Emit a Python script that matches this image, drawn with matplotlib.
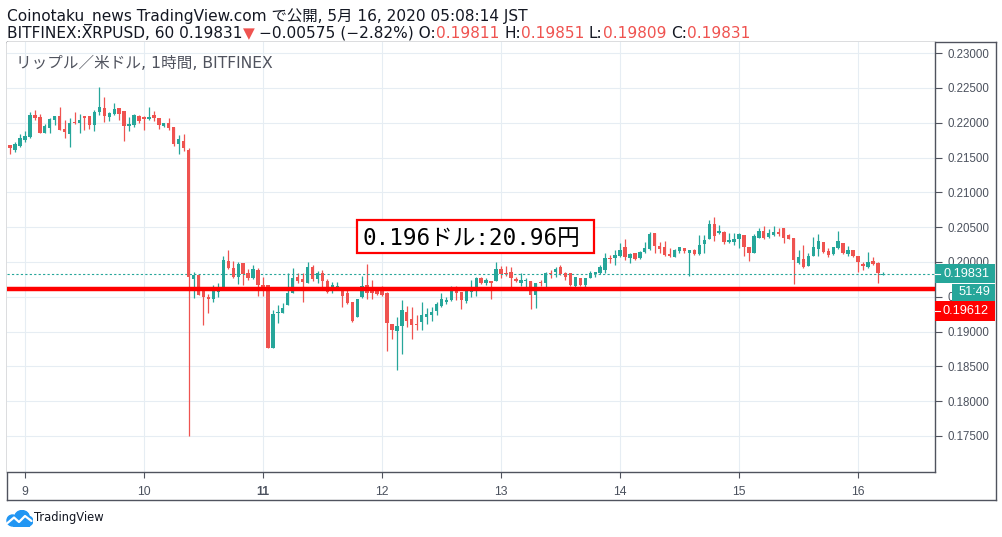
import matplotlib
matplotlib.use("Agg")
import matplotlib.pyplot as plt
from matplotlib.patches import Rectangle, Circle

plt.rcParams['font.family'] = ['DejaVu Sans', 'Noto Sans CJK JP']

# BITFINEX XRPUSD 1時間足, 5/8 21:00 JST の足から 5/16 05:00 JST の足まで
first_hour = 8 + 21 / 24

opens = [
    0.21681, 0.21609, 0.21667, 0.21753, 0.21792, 0.22112, 0.22084, 0.21858, 0.21930, 0.22041,
    0.22098, 0.21911, 0.21844, 0.22016, 0.22002, 0.22088, 0.22098, 0.21973, 0.22156, 0.22213,
    0.22088, 0.22122, 0.22213, 0.22170, 0.21959, 0.21969, 0.22098, 0.22084, 0.22059, 0.22112,
    0.22069, 0.21959, 0.21997, 0.21940, 0.21696, 0.21739, 0.21609, 0.19756, 0.19813, 0.19645,
    0.19497, 0.19473, 0.19573, 0.19645, 0.20014, 0.19914, 0.19789, 0.19981, 0.19838, 0.19766,
    0.19885, 0.19670, 0.19670, 0.18768, 0.19263, 0.19271, 0.19382, 0.19559, 0.19780, 0.19756,
    0.19703, 0.19932, 0.19760, 0.19838, 0.19731, 0.19636, 0.19636, 0.19645, 0.19559, 0.19430,
    0.19214, 0.19493, 0.19670, 0.19608, 0.19598, 0.19583, 0.19559, 0.19109, 0.19008, 0.19080,
    0.19286, 0.19181, 0.19109, 0.19142, 0.19214, 0.19238, 0.19296, 0.19368, 0.19430, 0.19454,
    0.19645, 0.19573, 0.19440, 0.19573, 0.19636, 0.19766, 0.19703, 0.19727, 0.19727, 0.19895,
    0.19846, 0.19856, 0.19751, 0.19703, 0.19727, 0.19727, 0.19526, 0.19717, 0.19694, 0.19846,
    0.19861, 0.19924, 0.19838, 0.19838, 0.19655, 0.19766, 0.19670, 0.19774, 0.19828, 0.19846,
    0.19885, 0.20062, 0.20053, 0.20086, 0.20211, 0.20053, 0.20134, 0.20053, 0.20139, 0.20182,
    0.20412, 0.20230, 0.20211, 0.20115, 0.20076, 0.20162, 0.20197, 0.20125, 0.20172, 0.20111,
    0.20259, 0.20331, 0.20546, 0.20412, 0.20435, 0.20283, 0.20283, 0.20331, 0.20388, 0.20220,
    0.20134, 0.20341, 0.20445, 0.20355, 0.20388, 0.20435, 0.20484, 0.20388, 0.20349, 0.19981,
    0.20043, 0.19943, 0.20091, 0.20187, 0.20292, 0.20158, 0.20111, 0.20205, 0.20269, 0.20111,
    0.20172, 0.20086, 0.19971, 0.19932, 0.20019, 0.19990, 0.19811,
]
highs = [
    0.21681, 0.21729, 0.21839, 0.21882, 0.22156, 0.22184, 0.22127, 0.21983, 0.22074, 0.22098,
    0.22227, 0.22041, 0.22069, 0.22156, 0.22131, 0.22098, 0.22098, 0.22184, 0.22519, 0.22371,
    0.22156, 0.22285, 0.22213, 0.22170, 0.22084, 0.22131, 0.22112, 0.22098, 0.22227, 0.22170,
    0.22069, 0.21997, 0.22069, 0.21940, 0.21825, 0.21844, 0.21638, 0.19861, 0.19828, 0.19645,
    0.19540, 0.19670, 0.19698, 0.20091, 0.20172, 0.20014, 0.20004, 0.19981, 0.19895, 0.19957,
    0.19909, 0.19780, 0.19670, 0.19310, 0.19382, 0.19407, 0.19838, 0.19909, 0.19838, 0.19838,
    0.19996, 0.19957, 0.19871, 0.19885, 0.19751, 0.19717, 0.19717, 0.19645, 0.19598, 0.19430,
    0.19468, 0.19799, 0.19971, 0.19741, 0.19645, 0.19655, 0.19573, 0.19109, 0.19214, 0.19454,
    0.19368, 0.19358, 0.19238, 0.19430, 0.19335, 0.19358, 0.19430, 0.19550, 0.19493, 0.19655,
    0.19655, 0.19573, 0.19636, 0.19741, 0.19789, 0.19789, 0.19766, 0.19731, 0.20000, 0.19943,
    0.19943, 0.19932, 0.19780, 0.19838, 0.19766, 0.19727, 0.19703, 0.19741, 0.19861, 0.19885,
    0.19924, 0.19957, 0.19856, 0.19838, 0.19780, 0.19766, 0.19766, 0.19875, 0.19856, 0.19957,
    0.20125, 0.20101, 0.20172, 0.20277, 0.20331, 0.20134, 0.20134, 0.20162, 0.20292, 0.20435,
    0.20421, 0.20292, 0.20302, 0.20197, 0.20187, 0.20220, 0.20197, 0.20172, 0.20182, 0.20388,
    0.20388, 0.20604, 0.20651, 0.20532, 0.20450, 0.20412, 0.20412, 0.20412, 0.20388, 0.20220,
    0.20402, 0.20484, 0.20522, 0.20470, 0.20522, 0.20484, 0.20484, 0.20398, 0.20349, 0.20172,
    0.20244, 0.20125, 0.20355, 0.20398, 0.20292, 0.20197, 0.20220, 0.20445, 0.20269, 0.20234,
    0.20172, 0.20086, 0.20004, 0.20139, 0.20076, 0.20004, 0.19851,
]
lows = [
    0.21552, 0.21585, 0.21657, 0.21729, 0.21782, 0.22041, 0.21858, 0.21858, 0.21858, 0.21969,
    0.21897, 0.21786, 0.21657, 0.21979, 0.21854, 0.21897, 0.21907, 0.21887, 0.22117, 0.22012,
    0.22030, 0.22112, 0.22041, 0.21739, 0.21882, 0.21944, 0.22002, 0.21897, 0.22041, 0.22030,
    0.21911, 0.21944, 0.21897, 0.21671, 0.21552, 0.21599, 0.17500, 0.19487, 0.19526, 0.19095,
    0.19271, 0.19425, 0.19501, 0.19622, 0.19904, 0.19766, 0.19684, 0.19670, 0.19741, 0.19751,
    0.19516, 0.19511, 0.18768, 0.18768, 0.19119, 0.19271, 0.19382, 0.19550, 0.19694, 0.19430,
    0.19694, 0.19731, 0.19694, 0.19645, 0.19559, 0.19559, 0.19608, 0.19358, 0.19396, 0.19142,
    0.19214, 0.19478, 0.19464, 0.19464, 0.19526, 0.19511, 0.18725, 0.18889, 0.18448, 0.18678,
    0.19070, 0.18889, 0.19023, 0.19023, 0.19109, 0.19156, 0.19238, 0.19358, 0.19392, 0.19444,
    0.19454, 0.19320, 0.19415, 0.19501, 0.19511, 0.19684, 0.19670, 0.19468, 0.19727, 0.19766,
    0.19799, 0.19645, 0.19708, 0.19659, 0.19645, 0.19320, 0.19343, 0.19655, 0.19608, 0.19766,
    0.19789, 0.19813, 0.19741, 0.19655, 0.19636, 0.19655, 0.19645, 0.19766, 0.19780, 0.19828,
    0.19838, 0.19981, 0.19957, 0.20076, 0.20029, 0.19990, 0.20029, 0.20043, 0.20125, 0.20172,
    0.20125, 0.20125, 0.20091, 0.20076, 0.20068, 0.20125, 0.20125, 0.19803, 0.20096, 0.20101,
    0.20134, 0.20326, 0.20306, 0.20398, 0.20254, 0.20269, 0.20244, 0.20197, 0.20091, 0.20014,
    0.20125, 0.20341, 0.20331, 0.20349, 0.20378, 0.20378, 0.20277, 0.20326, 0.19684, 0.19971,
    0.19909, 0.19943, 0.20091, 0.20086, 0.20134, 0.20068, 0.20101, 0.20187, 0.20115, 0.20086,
    0.20076, 0.19861, 0.19885, 0.19918, 0.19957, 0.19703, 0.19809,
]
closes = [
    0.21642, 0.21691, 0.21782, 0.21811, 0.22112, 0.22074, 0.21858, 0.21954, 0.22055, 0.22098,
    0.21897, 0.21868, 0.21997, 0.21997, 0.22041, 0.22074, 0.21973, 0.22160, 0.22227, 0.22098,
    0.22145, 0.22199, 0.22131, 0.21959, 0.21983, 0.22117, 0.22030, 0.22055, 0.22088, 0.22074,
    0.21969, 0.21997, 0.21926, 0.21696, 0.21768, 0.21638, 0.19789, 0.19813, 0.19526, 0.19501,
    0.19473, 0.19598, 0.19598, 0.20029, 0.19918, 0.19789, 0.19971, 0.19823, 0.19774, 0.19899,
    0.19670, 0.19636, 0.18768, 0.19253, 0.19286, 0.19343, 0.19559, 0.19774, 0.19731, 0.19717,
    0.19932, 0.19751, 0.19846, 0.19731, 0.19573, 0.19670, 0.19655, 0.19511, 0.19407, 0.19156,
    0.19468, 0.19655, 0.19559, 0.19550, 0.19540, 0.19526, 0.19128, 0.19023, 0.19080, 0.19310,
    0.19156, 0.19095, 0.19095, 0.19238, 0.19253, 0.19286, 0.19396, 0.19464, 0.19454, 0.19588,
    0.19559, 0.19454, 0.19588, 0.19645, 0.19766, 0.19703, 0.19741, 0.19703, 0.19899, 0.19823,
    0.19828, 0.19774, 0.19731, 0.19741, 0.19741, 0.19526, 0.19703, 0.19694, 0.19846, 0.19828,
    0.19899, 0.19828, 0.19789, 0.19670, 0.19780, 0.19670, 0.19766, 0.19846, 0.19856, 0.19932,
    0.20053, 0.20043, 0.20101, 0.20172, 0.20076, 0.20115, 0.20043, 0.20148, 0.20197, 0.20402,
    0.20234, 0.20187, 0.20101, 0.20091, 0.20172, 0.20211, 0.20158, 0.20172, 0.20111, 0.20244,
    0.20316, 0.20546, 0.20378, 0.20445, 0.20283, 0.20316, 0.20331, 0.20402, 0.20220, 0.20134,
    0.20374, 0.20445, 0.20341, 0.20412, 0.20435, 0.20402, 0.20349, 0.20331, 0.20029, 0.20068,
    0.19932, 0.20091, 0.20220, 0.20306, 0.20148, 0.20101, 0.20220, 0.20302, 0.20125, 0.20172,
    0.20086, 0.19996, 0.19947, 0.20004, 0.19971, 0.19838, 0.19831,
]

days = [9, 10, 11, 12, 13, 14, 15, 16]
price_ticks = [0.175, 0.180, 0.185, 0.190, 0.195, 0.200, 0.205, 0.210, 0.215, 0.220, 0.225, 0.230]
support = 0.19612
last_price = 0.19831
countdown = '51:49'
note = '0.196ドル:20.96円'
title = 'Coinotaku_news TradingView.com で公開, 5月 16, 2020 05:08:14 JST'
symbol = 'リップル／米ドル, 1時間, BITFINEX'

GREEN = '#26a69a'
RED = '#ef5350'
AXC = '#50535e'
GRID = '#e6edf3'
TXT = '#131722'

W, H = 1002, 537
fig = plt.figure(figsize=(W / 100, H / 100), dpi=100)
rend = fig.canvas.get_renderer()


def text_width(s, size, family=None):
    t = fig.text(0, 0, s, fontsize=size, family=family)
    w = t.get_window_extent(rend).width
    t.remove()
    return w


def fit_size(s, target_px, family=None):
    return 10 * target_px / text_width(s, 10, family)


# outer frame (price scale + time scale)
frame = fig.add_axes([7 / W, 1 - 500 / H, 989 / W, 458 / H])
frame.set_xticks([])
frame.set_yticks([])
for sp in frame.spines.values():
    sp.set_color(AXC)
    sp.set_linewidth(1.0)

ax = fig.add_axes([7 / W, 1 - 472 / H, 928 / W, 430 / H])
ax.set_xlim(8.849, 16.647)
ax.set_ylim(0.16982, 0.23161)
ymin, ymax = ax.get_ylim()
px_y = (ymax - ymin) / 430
px_x = 1 / 928

# candles
n = len(opens)
times = [first_hour + k / 24 for k in range(n)]
colors = [GREEN if c >= o else RED for o, c in zip(opens, closes)]
bottoms = [min(o, c) for o, c in zip(opens, closes)]
heights = [max(abs(c - o), 1.2 * px_y) for o, c in zip(opens, closes)]
ax.vlines(times, lows, highs, colors=colors, lw=0.9, zorder=2)
ax.bar(times, heights, bottom=bottoms, width=0.68 / 24, color=colors, lw=0, zorder=3)

# lines
ax.axhline(last_price, color=GREEN, lw=0.8, ls=(0, (2, 2)), zorder=2.6)
ax.axhline(support, color='#ff0000', lw=3.2, zorder=4)

# axes styling
ax.grid(color=GRID, lw=0.8)
ax.set_axisbelow(True)
ax.spines['top'].set_visible(False)
ax.spines['left'].set_visible(False)
for side in ['right', 'bottom']:
    ax.spines[side].set_color(AXC)
    ax.spines[side].set_linewidth(1.0)
ax.yaxis.tick_right()
ax.set_yticks(price_ticks, labels=[f'{v:.5f}' for v in price_ticks],
              fontfamily='Liberation Sans', fontsize=8.3, color='#4c525e')
ax.set_xticks(days, labels=[str(d) for d in days],
              fontfamily='Liberation Sans', fontsize=8.8, color='#4c525e')
ax.get_xticklabels()[2].set_fontweight('bold')
ax.tick_params(axis='y', direction='out', length=5, width=0.8, color=AXC, pad=4)
ax.tick_params(axis='x', direction='out', length=4, width=0.8, color=AXC, pad=6)

# price scale labels
ytr = ax.get_yaxis_transform()


def scale_label(center, text, color, x0_px=0, w_px=60, h_px=19, dash=True):
    ax.add_patch(Rectangle((1 + x0_px * px_x, center - h_px / 2 * px_y), w_px * px_x, h_px * px_y,
                           transform=ytr, facecolor=color, edgecolor='none', clip_on=False, zorder=6))
    ax.text(1 + (x0_px + w_px / 2 + 1) * px_x, center, text, transform=ytr, color='white',
            ha='center', va='center', fontsize=9.2, fontfamily='Liberation Sans',
            zorder=7, clip_on=False)
    if dash:
        ax.plot([1, 1 + 5 * px_x], [center, center], transform=ytr, color='white',
                lw=0.8, clip_on=False, zorder=7)


scale_label(last_price, f'{last_price:.5f}', GREEN)
scale_label(last_price - 18.5 * px_y, countdown, GREEN, x0_px=17, w_px=43, h_px=17, dash=False)
scale_label(support - 22.5 * px_y, f'{support:.5f}', '#ff0000', h_px=20)

# annotation box
note_family = ['DejaVu Sans Mono', 'Noto Sans CJK JP']
ax.add_patch(Rectangle((0.3772, 0.5093), 0.2553, 0.0767, transform=ax.transAxes,
                       facecolor='white', edgecolor='#ff0000', lw=1.6, zorder=8))
fig.text(363 / W, 1 - 245 / H, note, fontsize=fit_size(note, 218, note_family),
         family=note_family, color='black', ha='left', va='baseline', zorder=9)

# symbol label inside chart
fig.text(16 / W, 1 - 68 / H, symbol, fontsize=fit_size(symbol, 256),
         color='#50535e', va='baseline', ha='left')


def write_runs(x_px, base_px, runs, size):
    joined = ''
    for s, col in runs:
        joined += s
        x_end = x_px + text_width(joined, size)
        fig.text(x_end / W, 1 - base_px / H, s.strip(), color=col, fontsize=size,
                 ha='right', va='baseline')


quote = [
    ('BITFINEX:XRPUSD, 60 0.19831', TXT), ('▼', RED), (' −0.00575 (−2.82%) O:', TXT),
    ('0.19811', RED), (' H:', TXT), ('0.19851', RED), (' L:', TXT), ('0.19809', RED),
    (' C:', TXT), ('0.19831', RED),
]
write_runs(7, 21, [(title, TXT)], fit_size(title, 520))
write_runs(7, 38, quote, fit_size(''.join(s for s, _ in quote), 742))

# TradingView logo
logo = fig.add_axes([6 / W, 1 - 527 / H, 27 / W, 17 / H])
logo.set_xlim(0, 27)
logo.set_ylim(0, 17)
logo.set_aspect('equal')
logo.axis('off')
blue = '#2196f3'
logo.add_patch(Circle((6.5, 6.5), 5.5, color=blue))
logo.add_patch(Circle((16, 9), 7.5, color=blue))
logo.add_patch(Circle((22, 6), 4.8, color=blue))
logo.add_patch(Rectangle((6.5, 1), 16, 6, color=blue))
logo.plot([1.5, 8, 13, 19, 25.5], [4, 9.5, 5, 11, 6], color='white', lw=1.6, solid_capstyle='round')
fig.text(34 / W, 1 - 518 / H, 'TradingView', fontsize=fit_size('TradingView', 70),
         color=TXT, va='center', ha='left')

fig.savefig('out.png', dpi=100)
